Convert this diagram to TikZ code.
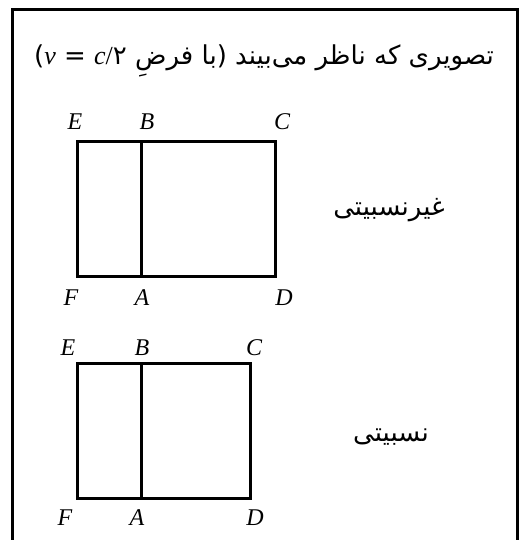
\documentclass[tikz,border=0pt]{standalone}
\usepackage{fontspec}
\newfontfamily\arabicfont[Script=Arabic]{DejaVu Sans}
\newfontfamily\letterfont{Liberation Serif}
\TeXXeTstate=1
\usetikzlibrary{positioning}

\begin{document}
\begin{tikzpicture}[x=1pt, y=-1pt,
    frame/.style={draw, line width=3pt},
    edge/.style={draw, line width=3pt, line join=miter},
    corner/.style={inner sep=0pt, font=\letterfont\itshape\fontsize{24}{28}\selectfont},
    caption/.style={inner sep=0pt, font=\arabicfont\fontsize{26}{30}\selectfont}]
\useasboundingbox (0,0) rectangle (531,540);
\draw [frame] (12,10) rectangle (517,570);
\node (title) [caption] at (264,61) {\beginR تصویری که ناظر می‌بیند (با فرضِ \beginL{\letterfont\itshape v} = {\letterfont\itshape c}{\letterfont /}\mbox{۲}\endL)\endR};
% non-relativistic
\coordinate (E1) at (77,142);
\coordinate (B1) at (141,142);
\coordinate (C1) at (275,142);
\coordinate (D1) at (275,276);
\coordinate (A1) at (141,276);
\coordinate (F1) at (77,276);
\draw [edge] (E1) -- (C1) -- (D1) -- (F1) -- cycle;
\draw [edge] (B1) -- (A1);
\node (e1) [corner] at (75,122) {E};
\node (b1) [corner] at (147,122) {B};
\node (c1) [corner] at (282,122) {C};
\node (f1) [corner] at (71,298) {F};
\node (a1) [corner] at (142,298) {A};
\node (d1) [corner] at (284,298) {D};
\node (nonrel) [caption] at (389,210) {\beginR غیرنسبیتی\endR};
% relativistic
\coordinate (E2) at (77,363);
\coordinate (B2) at (141,363);
\coordinate (C2) at (250,363);
\coordinate (D2) at (250,498);
\coordinate (A2) at (141,498);
\coordinate (F2) at (77,498);
\draw [edge] (E2) -- (C2) -- (D2) -- (F2) -- cycle;
\draw [edge] (B2) -- (A2);
\node (e2) [corner] at (68,348) {E};
\node (b2) [corner] at (142,348) {B};
\node (c2) [corner] at (254,348) {C};
\node (f2) [corner] at (65,518) {F};
\node (a2) [corner] at (137,518) {A};
\node (d2) [corner] at (255,518) {D};
\node (rel) [caption] at (391,437) {\beginR نسبیتی\endR};
\end{tikzpicture}
\end{document}
